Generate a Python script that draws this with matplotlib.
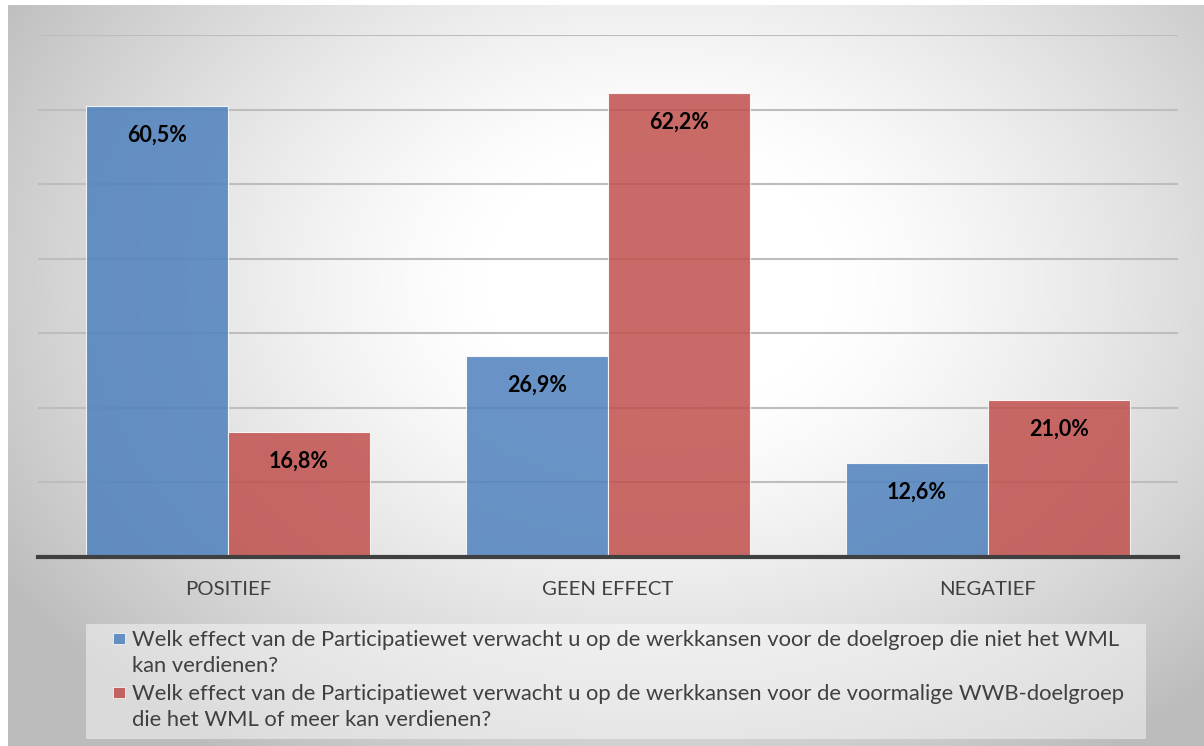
import numpy as np
import matplotlib
matplotlib.use("Agg")
import matplotlib.pyplot as plt
from matplotlib.patches import Rectangle

plt.rcParams['font.family'] = ['Lato', 'DejaVu Sans']

# Data
categories = ["POSITIEF", "GEEN EFFECT", "NEGATIEF"]
doelgroep_niet_wml = [60.5, 26.9, 12.6]
wwb_doelgroep = [16.8, 62.2, 21.0]
series_labels = [
    "Welk effect van de Participatiewet verwacht u op de werkkansen voor de doelgroep die niet het WML\nkan verdienen?",
    "Welk effect van de Participatiewet verwacht u op de werkkansen voor de voormalige WWB-doelgroep\ndie het WML of meer kan verdienen?",
]
y_ticks = [0, 10, 20, 30, 40, 50, 60, 70]

blue = "#4f81bd"
red = "#c0504d"
W, H = 1204, 746

fig = plt.figure(figsize=(W / 100, H / 100), dpi=100)
fig.patch.set_facecolor("white")

# achtergrond met radiaal verloop
bg = fig.add_axes([0, 0, 1, 1], zorder=0)
xx, yy = np.meshgrid(np.arange(W), np.arange(H))
r = np.sqrt(((xx - 660) / 700.0) ** 2 + ((yy - 280) / 520.0) ** 2)
t = np.clip((r - 0.25) / 0.85, 0, 1)
shade = 1.0 - 0.26 * t ** 1.3
img = np.dstack([shade] * 3)
img[:5, :, :] = 1.0
img[:, :8, :] = 1.0
bg.imshow(img, extent=[0, W, H, 0], aspect="auto", interpolation="bilinear")
bg.set_xlim(0, W)
bg.set_ylim(H, 0)
bg.axis("off")

# hoofd-assen
ax = fig.add_axes([38 / W, (H - 557) / H, 1140 / W, 522 / H], zorder=1)
ax.patch.set_alpha(0)
x = np.arange(len(categories))
bw = 0.374
b1 = ax.bar(x - bw / 2, doelgroep_niet_wml, bw, color=blue, alpha=0.85,
            edgecolor=(1, 1, 1, 0.6), linewidth=0.8, zorder=2)
b2 = ax.bar(x + bw / 2, wwb_doelgroep, bw, color=red, alpha=0.85,
            edgecolor=(1, 1, 1, 0.6), linewidth=0.8, zorder=2)

for bars in (b1, b2):
    for rect in bars:
        v = rect.get_height()
        ax.annotate(f"{v:.1f}".replace(".", ",") + "%",
                    (rect.get_x() + rect.get_width() / 2, v),
                    xytext=(0, -29), textcoords="offset pixels",
                    ha="center", va="center", fontsize=15.5, fontweight="bold",
                    color="black", zorder=3)

ax.set_xlim(-0.5, 2.5)
ax.set_ylim(0, 70)
ax.set_yticks(y_ticks)
ax.yaxis.grid(True, color="#bdbdbd", linewidth=1.5, zorder=1)
ax.set_axisbelow(True)
ax.tick_params(axis="y", left=False, labelleft=False)
ax.set_xticks(x)
ax.set_xticklabels(categories, fontsize=14.7, color="#404040")
ax.tick_params(axis="x", length=0, pad=17)
for s in ("top", "right", "left"):
    ax.spines[s].set_visible(False)
ax.spines["bottom"].set_color("#404040")
ax.spines["bottom"].set_linewidth(3)
ax.spines["bottom"].set_zorder(4)

# legenda
bg.add_patch(Rectangle((86, 624), 1060, 115, facecolor="white", alpha=0.45,
                       edgecolor="none", zorder=2))
for i, (lab, col) in enumerate(zip(series_labels, [blue, red])):
    ytop = 646 + i * 54
    bg.add_patch(Rectangle((113, ytop - 13), 12, 11, facecolor=col, alpha=0.85,
                           edgecolor=(1, 1, 1, 0.6), linewidth=0.6, zorder=3))
    for j, line in enumerate(lab.split("\n")):
        bg.text(132, ytop + j * 26, line, fontsize=15.8, color="#404040",
                va="baseline", ha="left", zorder=3)

fig.savefig("out.png", dpi=100)
